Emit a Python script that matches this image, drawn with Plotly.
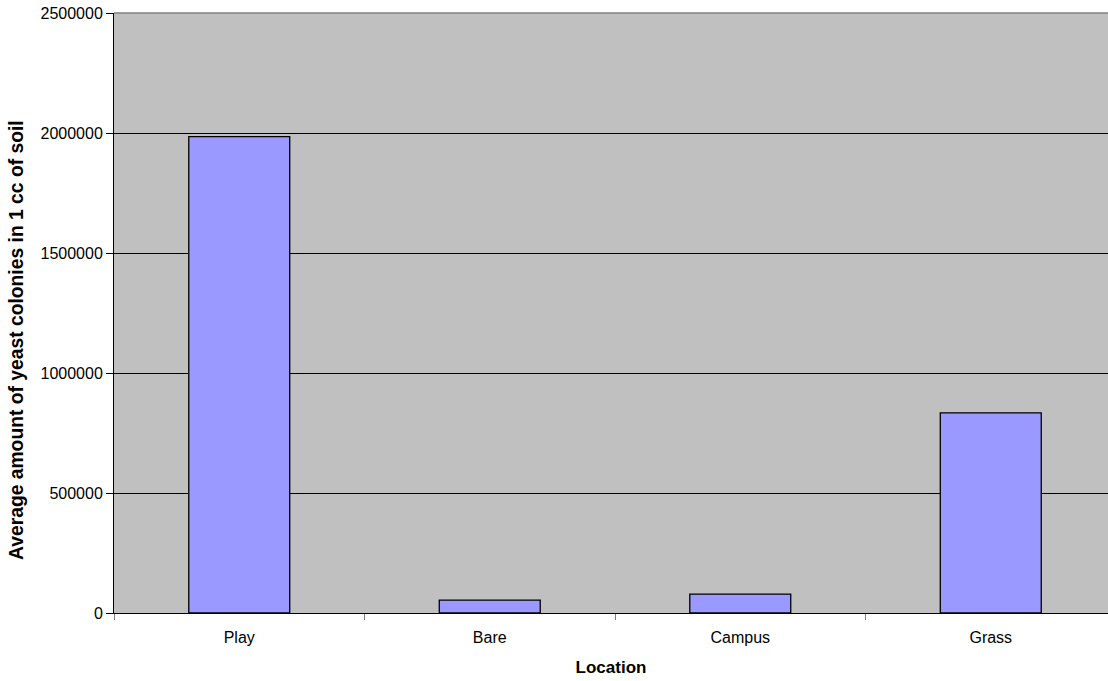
import plotly.graph_objects as go

locations = ["Play", "Bare", "Campus", "Grass"]
avg_colonies = [1985000, 54000, 79000, 834000]

fig = go.Figure(go.Bar(
    x=locations, y=avg_colonies, width=0.403,
    marker=dict(color="#9999FF", line=dict(color="#000000", width=1.3)),
))

fig.update_layout(
    width=1108, height=681,
    margin=dict(l=114, r=0, t=13, b=68),
    plot_bgcolor="#C0C0C0", paper_bgcolor="#FFFFFF",
    font=dict(family="Liberation Sans, Arial, sans-serif", size=16, color="#000000"),
    showlegend=False,
)
fig.update_xaxes(
    title=dict(text="<b>Location</b>", font=dict(size=17), standoff=15),
    showline=True, linecolor="#000000", linewidth=1,
    ticks="outside", tickson="boundaries", ticklen=6, tickcolor="#808080",
    ticklabelstandoff=10,
    showgrid=False, range=[-0.5, 3.468],
)
fig.update_yaxes(
    range=[0, 2500000], dtick=500000, tickformat="d",
    showline=True, linecolor="#000000", linewidth=1,
    ticks="outside", ticklen=7, tickcolor="#000000",
    showgrid=True, gridcolor="#000000", gridwidth=1,
    zeroline=False,
)
fig.add_annotation(
    text="<b>Average amount of yeast colonies in 1 cc of soil</b>",
    xref="paper", yref="paper", x=0, y=0.455, xshift=-97,
    textangle=-90, showarrow=False, font=dict(size=19.3),
    xanchor="center", yanchor="middle",
)
fig.add_shape(type="line", xref="paper", yref="paper", x0=0, x1=1, y0=1, y1=1,
              line=dict(color="#808080", width=1.5))

fig.write_html("out.html")
